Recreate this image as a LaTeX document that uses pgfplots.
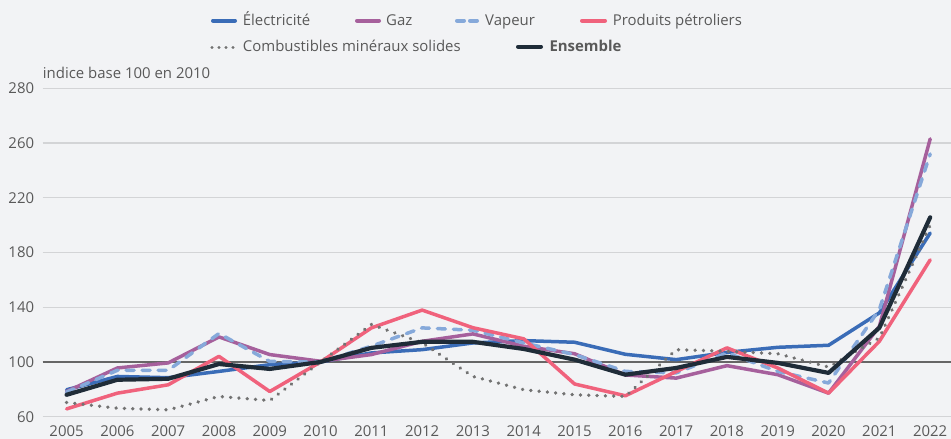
\documentclass[border=0pt]{standalone}
\usepackage{fontspec}
\setmainfont{Open Sans}
\usepackage{pgfplots}
\pgfplotsset{compat=1.18}
\definecolor{bg}{HTML}{F2F3F5}
\definecolor{txt}{HTML}{595959}
\definecolor{gridc}{HTML}{D3D4D6}
\definecolor{elec}{HTML}{3A6CB7}
\definecolor{gaz}{HTML}{A6609C}
\definecolor{vap}{HTML}{86A9DA}
\definecolor{petro}{HTML}{F0627C}
\definecolor{comb}{HTML}{727272}
\definecolor{ens}{HTML}{1F2C38}
\newcommand{\f}{\fontsize{15}{18}\selectfont}
\begin{document}
\begin{tikzpicture}[x=1bp,y=1bp]
\fill[bg] (0,0) rectangle (951,439);
\useasboundingbox (0,0) rectangle (951,439);
\begin{axis}[
  at={(42.7bp,22.3bp)}, anchor=south west,
  scale only axis, width=908.3bp, height=328.4bp,
  xmin=2004.53, xmax=2022.41, ymin=60, ymax=300,
  axis line style={draw=none}, major tick style={draw=none},
  xtick={2005,...,2022},
  ytick={60,100,140,180,220,260,300},
  yticklabels={60,100,140,180,220,260,280},
  ymajorgrids, grid style={color=gridc, line width=1.3bp},
  extra y ticks={100}, extra y tick labels={},
  extra y tick style={grid style={color=black!60, line width=1.2bp}},
  /pgf/number format/assume math mode=true,
  /pgf/number format/1000 sep={},
  xticklabel style={font=\f, text=txt, anchor=base, inner sep=0pt, yshift=-19.5bp},
  yticklabel style={font=\f, text=txt, anchor=base east, inner sep=0pt, xshift=-8.4bp, yshift=-5.5bp},
  clip=false,
  every axis plot/.append style={line join=round, line cap=round},
]
% Electricite
\addplot[elec, line width=3.5bp] coordinates {
(2005,79.7)(2006,89.4)(2007,88.5)(2008,93.1)(2009,98)(2010,100)(2011,106.6)(2012,109)(2013,113.9)(2014,115.6)(2015,114.4)(2016,105.6)(2017,101.7)(2018,107)(2019,110.7)(2020,112.2)(2021,135.9)(2022,194.2)};
% Gaz
\addplot[gaz, line width=3.5bp] coordinates {
(2005,78.4)(2006,95.6)(2007,99.3)(2008,118.3)(2009,105.4)(2010,100.5)(2011,105.4)(2012,115.1)(2013,120.5)(2014,111.5)(2015,106)(2016,90.5)(2017,88.2)(2018,97.3)(2019,90.7)(2020,77.2)(2021,126.1)(2022,263)};
% Vapeur
\addplot[vap, line width=3.5bp, dash pattern=on 8bp off 8bp] coordinates {
(2005,78)(2006,93.9)(2007,93.9)(2008,120.8)(2009,100.4)(2010,100)(2011,111.5)(2012,124.9)(2013,123.2)(2014,113.9)(2015,105.4)(2016,93.1)(2017,92)(2018,106.6)(2019,93.1)(2020,84.6)(2021,138.4)(2022,252)};
% Produits petroliers
\addplot[petro, line width=3.5bp] coordinates {
(2005,65.7)(2006,77.2)(2007,83.3)(2008,104.1)(2009,78.4)(2010,100)(2011,124.9)(2012,137.9)(2013,125)(2014,116.9)(2015,83.9)(2016,75.3)(2017,93)(2018,110.3)(2019,95.6)(2020,77.2)(2021,115.1)(2022,174.6)};
% Combustibles mineraux solides
\addplot[comb, line width=3.7bp, dash pattern=on 0.01bp off 8.3bp] coordinates {
(2005,70.4)(2006,66.2)(2007,65)(2008,74.8)(2009,71.8)(2010,100)(2011,127.4)(2012,114)(2013,89.4)(2014,79.7)(2015,76)(2016,74.8)(2017,109)(2018,107.8)(2019,106)(2020,96.3)(2021,117.6)(2022,200)};
% Ensemble
\addplot[ens, line width=4.2bp] coordinates {
(2005,76)(2006,87)(2007,87.7)(2008,98.5)(2009,94.9)(2010,100)(2011,110.3)(2012,114.7)(2013,114.7)(2014,109.5)(2015,101.7)(2016,90.7)(2017,95.6)(2018,103.7)(2019,99.3)(2020,92)(2021,125)(2022,205.7)};
\end{axis}
% axis title
\node[anchor=base west, inner sep=0pt, font=\f, text=txt] at (42.7,439-78.3) {indice base 100 en 2010};
% legend
\begin{scope}[line cap=round]
\draw[elec, line width=4bp] (213,439-20.7) -- (235,439-20.7);
\node[anchor=base west, inner sep=0pt, font=\f, text=txt] at (242.7,439-25.7) {Électricité};
\draw[gaz, line width=4bp] (357,439-20.7) -- (379,439-20.7);
\node[anchor=base west, inner sep=0pt, font=\f, text=txt] at (386,439-25.7) {Gaz};
\draw[vap, line width=4bp, dash pattern=on 7bp off 6bp] (457,439-20.7) -- (480,439-20.7);
\node[anchor=base west, inner sep=0pt, font=\f, text=txt] at (485,439-25.7) {Vapeur};
\draw[petro, line width=4bp] (582,439-20.7) -- (605,439-20.7);
\node[anchor=base west, inner sep=0pt, font=\f, text=txt] at (612.7,439-25.7) {Produits pétroliers};
\draw[comb, line width=3.4bp, dash pattern=on 0.01bp off 7bp] (212,439-47.7) -- (235,439-47.7);
\node[anchor=base west, inner sep=0pt, font=\f, text=txt] at (242.7,439-51.7) {Combustibles minéraux solides};
\draw[ens, line width=4bp] (518,439-46.7) -- (541,439-46.7);
\node[anchor=base west, inner sep=0pt, font=\f\bfseries, text=txt] at (549.3,439-51.7) {Ensemble};
\end{scope}
\end{tikzpicture}
\end{document}
